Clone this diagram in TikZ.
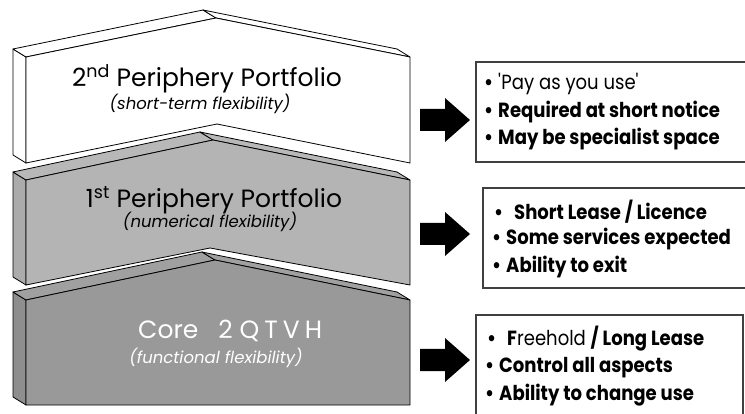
\documentclass[tikz,border=0pt]{standalone}
\usepackage{fontspec}
\setmainfont{Poppins}
\newfontfamily\itemfont{Poppins}[FakeStretch=0.88]
\usetikzlibrary{calc}

% colours of the three slabs
\definecolor{midfront}{HTML}{B4B4B4}
\definecolor{midside}{HTML}{ABABAB}
\definecolor{midtop}{HTML}{B8B8B8}
\definecolor{corefront}{HTML}{999999}
\definecolor{coreside}{HTML}{8E8E8E}
\definecolor{coretop}{HTML}{A0A0A0}

% an extruded slab: front face a-p-b-bb-q-ab, depth vector (d)
% #1 prefix, #2 front, #3 left side, #4 top faces
\newcommand{\drawslab}[4]{%
  \filldraw[edge,fill=#3] (#1a) -- (#1ab) -- ($(#1ab)+(d)$) -- ($(#1a)+(d)$) -- cycle;
  \filldraw[edge,fill=#4] (#1a) -- (#1p) -- ($(#1p)+(d)$) -- ($(#1a)+(d)$) -- cycle;
  \filldraw[edge,fill=#4] (#1p) -- (#1b) -- ($(#1b)+(d)$) -- ($(#1p)+(d)$) -- cycle;
  \filldraw[edge,fill=#2] (#1a) -- (#1p) -- (#1b) -- (#1bb) -- (#1q) -- (#1ab) -- cycle;
}

% block arrow, tail centre at #1
\newcommand{\blockarrow}[1]{%
  \fill[black] (#1) ++(0,-11) -- ++(25,0) -- ++(0,-11) -- ++(25,22)
    -- ++(-25,22) -- ++(0,-11) -- ++(-25,0) -- cycle;
}

\begin{document}
\begin{tikzpicture}[x=1pt,y=-1pt,
  edge/.style={draw=black,line width=0.8pt,line join=round},
  infobox/.style={draw=black!75,line width=1.3pt,fill=white},
  title/.style={font=\fontsize{25}{29}\selectfont,inner sep=0pt},
  subtitle/.style={font=\fontsize{16.5}{19}\selectfont\itshape,inner sep=0pt},
  item/.style={font=\itemfont\fontsize{20.5}{24}\selectfont\bfseries,inner sep=0pt,anchor=base west},
]
\clip (0,0) rectangle (745,414);
\fill[white] (0,0) rectangle (745,414);

\coordinate (d) at (-13,-8);

% core slab
\coordinate (Ca) at (26,300);  \coordinate (Cp) at (215,260); \coordinate (Cb) at (410,300);
\coordinate (Cbb) at (410,405); \coordinate (Cq) at (215,405); \coordinate (Cab) at (26,405);
% first periphery slab
\coordinate (Ma) at (26,180);  \coordinate (Mp) at (213,140); \coordinate (Mb) at (410,180);
\coordinate (Mbb) at (410,285); \coordinate (Mq) at (210,248); \coordinate (Mab) at (26,285);
% second periphery slab
\coordinate (Ta) at (26,57);   \coordinate (Tp) at (216,18);  \coordinate (Tb) at (410,57);
\coordinate (Tbb) at (410,163); \coordinate (Tq) at (217,124); \coordinate (Tab) at (26,163);

\drawslab{C}{corefront}{coreside}{coretop}
\drawslab{M}{midfront}{midside}{midtop}
\drawslab{T}{white}{white}{white}

% slab labels
\node[title,anchor=base] (t2) at (207,87) {2\textsuperscript{nd} Periphery Portfolio};
\node[subtitle,anchor=base] (s2) at (200,110) {(short-term flexibility)};
\node[title,anchor=base] (t1) at (214,208) {1\textsuperscript{st} Periphery Portfolio};
\node[subtitle,anchor=base] (s1) at (210,228) {(numerical flexibility)};
\node[title,anchor=base west,text=white] (t0) at (138,338)
  {Core\hspace{20pt}2\hspace{7pt}Q\hspace{5pt}T\hspace{5pt}V\hspace{5pt}H};
\node[subtitle,anchor=base,text=white] (s0) at (216,363) {(functional flexibility)};

% arrows
\coordinate (a2) at (420,120);
\coordinate (a1) at (420,234);
\coordinate (a0) at (420,360);
\blockarrow{a2}
\blockarrow{a1}
\blockarrow{a0}

% boxes of attributes
\draw[infobox] (476,62) rectangle (752,162);
\draw[infobox] (483,188) rectangle (752,288);
\draw[infobox] (476,315) rectangle (743,422);

\node[item] (p1) at (484,90) {•\hspace{5pt}\mdseries\textquotesingle Pay as you use\textquotesingle};
\node[item] (p2) at (484,118) {•\hspace{5pt}Required at short notice};
\node[item] (p3) at (484,145) {•\hspace{5pt}May be specialist space};

\node[item] (q1) at (494,220) {•\hspace{11pt}Short Lease / Licence};
\node[item] (q2) at (492,245) {•\hspace{5pt}Some services expected};
\node[item] (q3) at (492,273) {•\hspace{5pt}Ability to exit};

\node[item] (r1) at (487,345) {•\hspace{11pt}F\mdseries reehold \bfseries/ Long Lease};
\node[item] (r2) at (485,373) {•\hspace{5pt}Control all aspects};
\node[item] (r3) at (485,400) {•\hspace{5pt}Ability to change use};
\end{tikzpicture}
\end{document}
